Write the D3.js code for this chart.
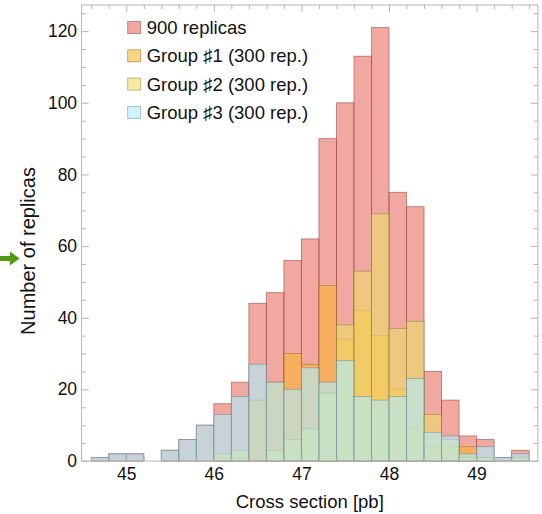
<!DOCTYPE html>
<html><head><meta charset="utf-8">
<script src="https://cdn.jsdelivr.net/npm/d3@7"></script>
<style>body{margin:0;background:#fff} svg{display:block}</style>
</head><body><svg id="c" width="542" height="514"></svg>
<script>
// ---------- data ----------
const binLeft = [44.6, 44.8, 45.0, 45.2, 45.4, 45.6, 45.8, 46.0, 46.2, 46.4, 46.6, 46.8, 47.0,
                 47.2, 47.4, 47.6, 47.8, 48.0, 48.2, 48.4, 48.6, 48.8, 49.0, 49.2, 49.4];
const binWidth = 0.2;
const replicas900 = [1, 2, 2, 0, 3, 6, 10, 16, 22, 44, 47, 56, 62, 90, 100, 113, 121, 75, 71, 25, 17, 7, 6, 1, 3];
const group1      = [0, 0, 0, 0, 0, 0, 0, 1, 1, 17, 22, 30, 27, 49, 34, 42, 35, 20, 9, 4, 4, 4, 1, 0, 0];
const group2      = [0, 0, 0, 0, 0, 0, 0, 2, 3, 0, 3, 6, 9, 19, 38, 53, 69, 37, 39, 13, 6, 1, 1, 0, 1];
const group3      = [1, 2, 2, 0, 3, 6, 10, 13, 18, 27, 22, 20, 26, 22, 28, 18, 17, 18, 23, 8, 7, 2, 4, 1, 2];
const seriesNames = ["900 replicas", "Group \u266F1 (300 rep.)", "Group \u266F2 (300 rep.)", "Group \u266F3 (300 rep.)"];
const xTickValues = [45, 46, 47, 48, 49];
const yTickValues = [0, 20, 40, 60, 80, 100, 120];
const xLabel = "Cross section [pb]";
const yLabel = "Number of replicas";

// ---------- styles ----------
const seriesColors = ["#e86e61", "#fdb535", "#efdd6b", "#aeeeff"];
const fillOpacity = 0.6;
const FONT = "'Liberation Sans', Arial, Helvetica, sans-serif";
const frameColor = "#b4b4b4";
const tickFont = "17.5px", labelFont = "18.5px", yLabelFont = "20px";

const svg = d3.select("#c");
const pL = 81.6, pR = 537.9, pT = 5, pB = 461;
const x = d3.scaleLinear().domain([44.49, 49.7]).range([pL, pR]);
const y = d3.scaleLinear().domain([0, 127.3]).range([pB, pT]);

// ---------- bars ----------
const series = [replicas900, group1, group2, group3];
const barsG = svg.append("g");
series.forEach((vals, si) => {
  const col = seriesColors[si];
  barsG.append("g")
    .selectAll("rect")
    .data(binLeft.map((b, i) => ({ b, v: vals[i] })).filter(d => d.v > 0))
    .join("rect")
    .attr("x", d => x(d.b))
    .attr("width", d => x(d.b + binWidth) - x(d.b))
    .attr("y", d => y(d.v))
    .attr("height", d => y(0) - y(d.v))
    .attr("fill", col)
    .attr("fill-opacity", fillOpacity)
    .attr("stroke", d3.rgb(col).darker(1.4))
    .attr("stroke-opacity", 0.6)
    .attr("stroke-width", 0.9);
});

// ---------- frame & ticks ----------
const minorX = d3.range(44.6, 49.61, 0.2).filter(v => Math.abs(v - Math.round(v)) > 1e-6);
const minorY = d3.range(5, 127, 5).filter(v => v % 20 !== 0);

function styleAxis(g) {
  g.select(".domain").remove();
  g.selectAll(".tick line").attr("stroke", frameColor);
  g.selectAll(".tick text").attr("fill", "#111").style("font-family", FONT).style("font-size", tickFont);
}
svg.append("g").attr("transform", `translate(0,${pB})`)
  .call(d3.axisBottom(x).tickValues(xTickValues).tickFormat(d3.format("d")).tickSizeInner(-7).tickSizeOuter(0).tickPadding(7))
  .call(styleAxis);
svg.append("g").attr("transform", `translate(0,${pB})`)
  .call(d3.axisBottom(x).tickValues(minorX).tickFormat("").tickSizeInner(-4).tickSizeOuter(0))
  .call(styleAxis);
svg.append("g").attr("transform", `translate(0,${pT})`)
  .call(d3.axisTop(x).tickValues(xTickValues).tickFormat("").tickSizeInner(-7).tickSizeOuter(0))
  .call(styleAxis);
svg.append("g").attr("transform", `translate(0,${pT})`)
  .call(d3.axisTop(x).tickValues(minorX).tickFormat("").tickSizeInner(-4).tickSizeOuter(0))
  .call(styleAxis);
svg.append("g").attr("transform", `translate(${pL},0)`)
  .call(d3.axisLeft(y).tickValues(yTickValues).tickFormat(d3.format("d")).tickSizeInner(-7).tickSizeOuter(0).tickPadding(4.5))
  .call(styleAxis);
svg.append("g").attr("transform", `translate(${pL},0)`)
  .call(d3.axisLeft(y).tickValues(minorY).tickFormat("").tickSizeInner(-4).tickSizeOuter(0))
  .call(styleAxis);
svg.append("g").attr("transform", `translate(${pR},0)`)
  .call(d3.axisRight(y).tickValues(yTickValues).tickFormat("").tickSizeInner(-7).tickSizeOuter(0))
  .call(styleAxis);
svg.append("g").attr("transform", `translate(${pR},0)`)
  .call(d3.axisRight(y).tickValues(minorY).tickFormat("").tickSizeInner(-4).tickSizeOuter(0))
  .call(styleAxis);

svg.append("rect")
  .attr("x", pL).attr("y", pT).attr("width", pR - pL).attr("height", pB - pT)
  .attr("fill", "none").attr("stroke", frameColor).attr("stroke-width", 1);

// ---------- axis labels ----------
svg.append("text")
  .attr("x", (pL + pR) / 2).attr("y", 507.5)
  .attr("text-anchor", "middle")
  .style("font-family", FONT).style("font-size", labelFont).attr("fill", "#111")
  .text(xLabel);
svg.append("text")
  .attr("transform", "translate(34.5,251) rotate(-90)")
  .attr("text-anchor", "middle")
  .style("font-family", FONT).style("font-size", yLabelFont).attr("fill", "#111")
  .text(yLabel);

// ---------- legend ----------
const leg = svg.append("g");
seriesNames.forEach((name, i) => {
  const cy = 27.5 + i * 28.3;
  leg.append("rect")
    .attr("x", 127.7).attr("y", cy - 6).attr("width", 13).attr("height", 12)
    .attr("fill", seriesColors[i]).attr("fill-opacity", fillOpacity)
    .attr("stroke", d3.rgb(seriesColors[i]).darker(1.4)).attr("stroke-opacity", 0.6).attr("stroke-width", 0.9);
  leg.append("text")
    .attr("x", 146.7).attr("y", cy + 6.5)
    .style("font-family", FONT).style("font-size", labelFont).attr("fill", "#111")
    .text(name);
});

// ---------- green arrow annotation ----------
svg.append("path")
  .attr("d", "M0,256 L10,256 L10,251.5 L19.5,258.5 L10,265.5 L10,261 L0,261 Z")
  .attr("fill", "#4f9a10");
</script></body></html>
